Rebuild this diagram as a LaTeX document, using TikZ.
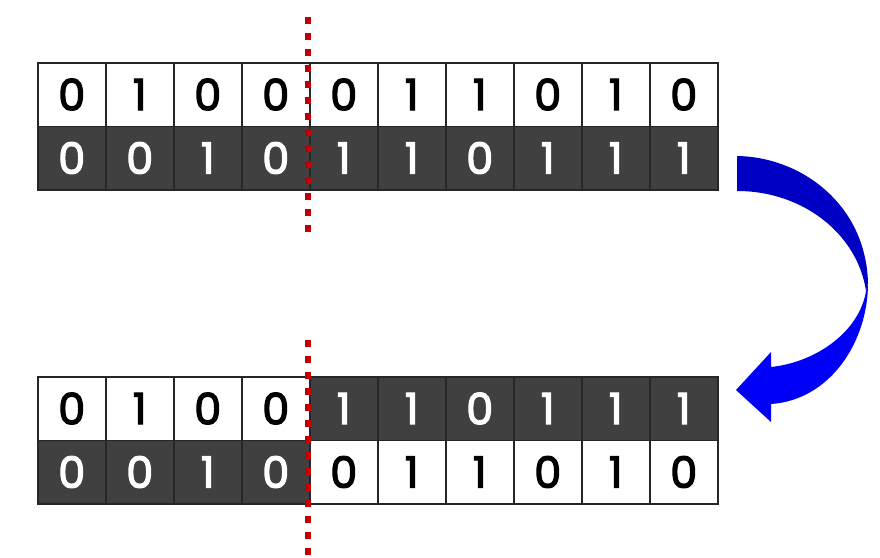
\documentclass[tikz,border=0pt]{standalone}
\usepackage{fontspec}
\setmainfont{Poppins}
\newfontfamily\digfont{Poppins}[FakeBold=3]
\usetikzlibrary{positioning}
\definecolor{Dk}{HTML}{404040}
\definecolor{Cut}{HTML}{C00000}
\definecolor{BlA}{HTML}{0000C4}
\definecolor{BlB}{HTML}{0000F8}
\tikzset{
  cell/.style={draw=black!85, line width=1.5pt, minimum width=68pt, minimum height=63.5pt, inner sep=0pt, anchor=north west, font=\digfont\fontsize{43}{43}\selectfont},
  wc/.style={cell, fill=white, text=black},
  bc/.style={cell, fill=Dk, text=white},
  cut/.style={Cut, line width=6pt, dash pattern=on 7pt off 9pt},
}
\begin{document}
\begin{tikzpicture}[x=1pt, y=-1pt]
  \useasboundingbox (0,0) rectangle (880,557);
  % before the swap
  \foreach \d [count=\i from 0] in {0,1,0,0,0,1,1,0,1,0} {\node[wc] (pA\i) at (37+68*\i,62) {\d};}
  \foreach \d [count=\i from 0] in {0,0,1,0,1,1,0,1,1,1} {\node[bc] (pB\i) at (37+68*\i,125.5) {\d};}
  % after the swap
  \foreach \d [count=\i from 0] in {0,1,0,0} {\node[wc] (cA\i) at (37+68*\i,376) {\d};}
  \foreach \d [count=\i from 4] in {1,1,0,1,1,1} {\node[bc] (cA\i) at (37+68*\i,376) {\d};}
  \foreach \d [count=\i from 0] in {0,0,1,0} {\node[bc] (cB\i) at (37+68*\i,439.5) {\d};}
  \foreach \d [count=\i from 4] in {0,1,1,0,1,0} {\node[wc] (cB\i) at (37+68*\i,439.5) {\d};}
  % crossover points
  \coordinate (cutA) at (308,17);  \coordinate (cutB) at (308,233);
  \coordinate (cutC) at (308,340); \coordinate (cutD) at (308,557);
  \draw[cut] (cutA) -- (cutB);
  \draw[cut] (cutC) -- (cutD);
  % curved arrow
  \fill[BlA] (737,156) .. controls (802,157) and (866,205) .. (868,283)
    -- (866,291) .. controls (858,236) and (805,191) .. (737,191) -- cycle;
  \fill[BlB] (868,283) .. controls (868,342) and (830,400) .. (771,404)
    -- (771,422) -- (736,390) -- (771,352) -- (771,367)
    .. controls (818,362) and (860,330) .. (866,291) -- cycle;
\end{tikzpicture}
\end{document}
